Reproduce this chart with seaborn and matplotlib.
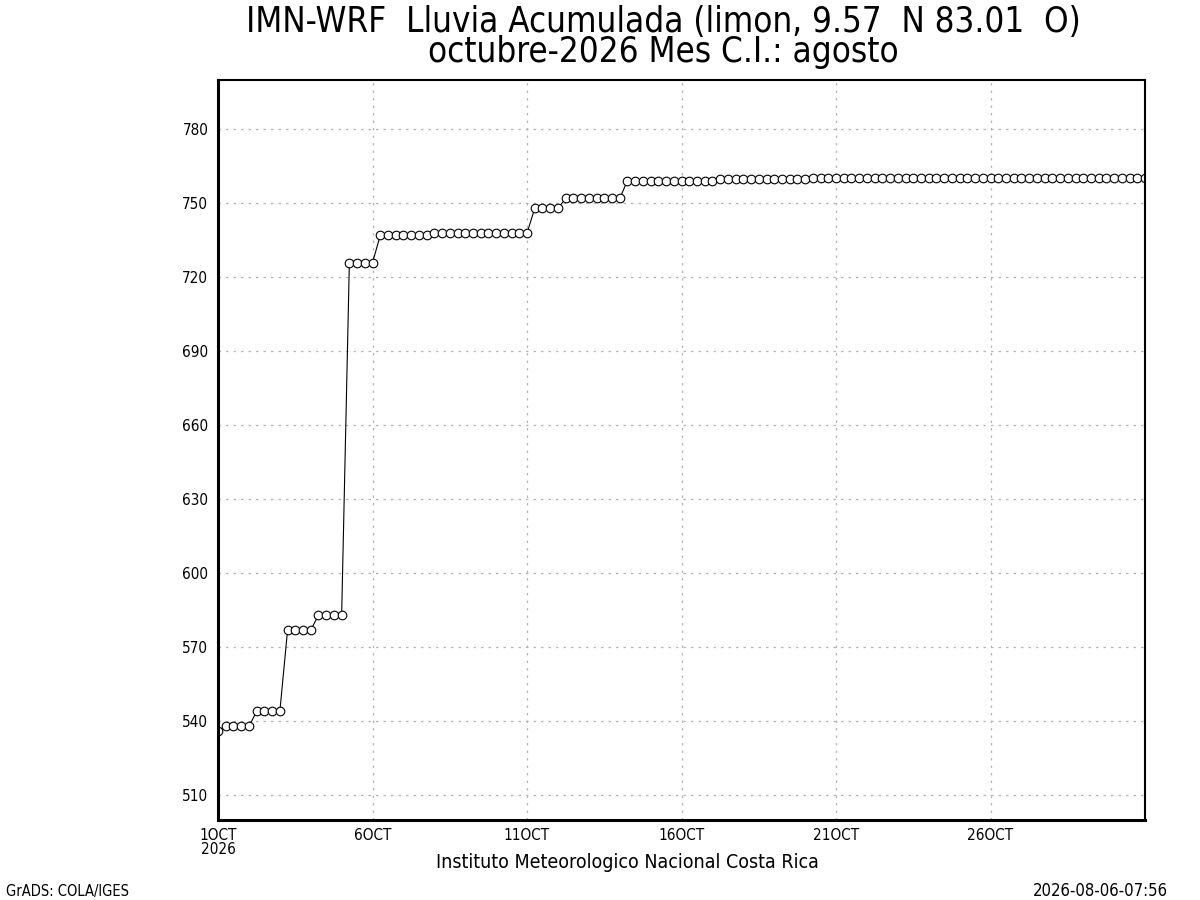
import pandas as pd
import matplotlib
matplotlib.use("Agg")
import matplotlib.pyplot as plt
import seaborn as sns

# accumulated rain (mm), 6-hourly from 1 Oct 00Z to 31 Oct 00Z
lluvia = [536,
          538, 538, 538, 538,
          544, 544, 544, 544,
          577, 577, 577, 577,
          583, 583, 583, 583,
          726, 726, 726, 726,
          737, 737, 737, 737, 737, 737, 737,
          738, 738, 738, 738, 738, 738, 738, 738, 738, 738, 738, 738, 738,
          748, 748, 748, 748,
          752, 752, 752, 752, 752, 752, 752, 752,
          759.2, 759.2, 759.2, 759.2, 759.2, 759.2, 759.2, 759.2, 759.2, 759.2, 759.2, 759.2,
          759.8, 759.8, 759.8, 759.8, 759.8, 759.8, 759.8, 759.8, 759.8, 759.8, 759.8, 759.8,
          760.4, 760.4, 760.4, 760.4, 760.4, 760.4, 760.4, 760.4, 760.4, 760.4, 760.4,
          760.4, 760.4, 760.4, 760.4, 760.4, 760.4, 760.4, 760.4, 760.4, 760.4, 760.4,
          760.4, 760.4, 760.4, 760.4, 760.4, 760.4, 760.4, 760.4, 760.4, 760.4, 760.4,
          760.4, 760.4, 760.4, 760.4, 760.4, 760.4, 760.4, 760.4, 760.4, 760.4, 760.4]

fechas = pd.date_range("2026-10-01 00:00", "2026-10-31 00:00", freq="6h")
df = pd.DataFrame({"fecha": fechas, "lluvia": lluvia})

xtick_dates = ["2026-10-01", "2026-10-06", "2026-10-11", "2026-10-16", "2026-10-21", "2026-10-26"]
xtick_labels = ["1OCT\n2026", "6OCT", "11OCT", "16OCT", "21OCT", "26OCT"]
yticks = [510, 540, 570, 600, 630, 660, 690, 720, 750, 780]

titulo1 = "IMN-WRF  Lluvia Acumulada (limon, 9.57  N 83.01  O)"
titulo2 = "octubre-2026 Mes C.I.: agosto"
xlabel = "Instituto Meteorologico Nacional Costa Rica"

sns.set_style("white")
plt.rcParams["font.family"] = ["DejaVu Sans"]
plt.rcParams["font.stretch"] = "condensed"
plt.rcParams["text.color"] = "black"
plt.rcParams["xtick.color"] = "black"
plt.rcParams["ytick.color"] = "black"

fig = plt.figure(figsize=(12, 9), dpi=100)
ax = fig.add_axes([0.1817, 0.0889, 0.7725, 0.8222])

sns.lineplot(data=df, x="fecha", y="lluvia", ax=ax, color="black", linewidth=0.8,
             marker="o", markersize=6.2, markerfacecolor="white",
             markeredgecolor="black", markeredgewidth=0.8)

ax.set_xlim(pd.Timestamp("2026-10-01"), pd.Timestamp("2026-10-31"))
ax.set_ylim(500, 800)
ax.set_xticks(pd.to_datetime(xtick_dates))
ax.set_xticklabels(xtick_labels, fontsize=11, linespacing=0.9)
ax.set_yticks(yticks)
ax.set_yticklabels([str(v) for v in yticks], fontsize=11)
ax.tick_params(axis="y", direction="out", length=4, width=1, pad=3)
ax.tick_params(axis="x", direction="out", length=3, width=1, pad=3)
ax.grid(True, color="#b4b4b4", linestyle=(0, (2, 4)), linewidth=0.9)
ax.set_xlabel("")
ax.set_ylabel("")
for s in ax.spines.values():
    s.set_color("black")
    s.set_linewidth(1.5)
ax.spines["left"].set_linewidth(2.2)
ax.spines["bottom"].set_linewidth(2.2)

# both title lines in one text, tight spacing as in the original
fig.text(0.5525, 0.9589, titulo1 + "\n" + titulo2, ha="center", va="center",
         fontsize=25, linespacing=0.87)
fig.text(0.5225, 0.042, xlabel, ha="center", va="center", fontsize=14)
fig.text(0.005, 0.0095, "GrADS: COLA/IGES", ha="left", va="center", fontsize=10.5)
fig.text(0.9733, 0.0095, "2026-08-06-07:56", ha="right", va="center", fontsize=12)

fig.savefig("out.png", dpi=100, facecolor="white")
